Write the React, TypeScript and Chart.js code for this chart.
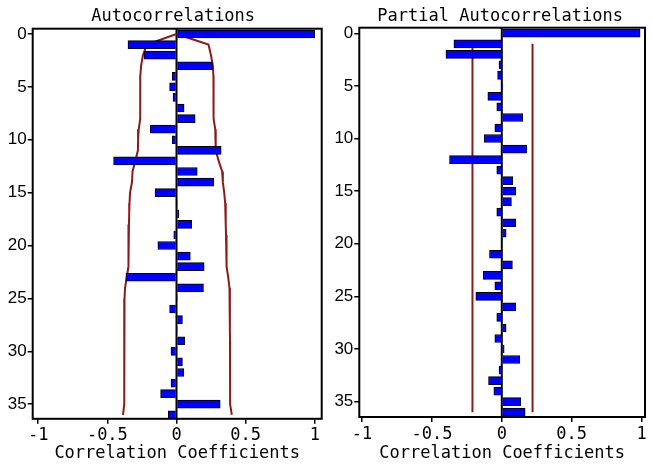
import React, { useEffect, useRef } from 'react';
import { Chart, registerables } from 'chart.js';

Chart.register(...registerables);

// Lags (categories)
const LAGS = [
  0, 1, 2, 3, 4, 5, 6, 7, 8, 9, 10, 11, 12, 13, 14, 15, 16, 17, 18,
  19, 20, 21, 22, 23, 24, 25, 26, 27, 28, 29, 30, 31, 32, 33, 34, 35, 36,
];

// Autocorrelations
const ACF = [
  1.0, -0.351, -0.235, 0.26, -0.03, -0.05, -0.025, 0.055, 0.135, -0.19,
  -0.03, 0.323, -0.455, 0.15, 0.27, -0.155, 0.005, 0.017, 0.11, -0.02,
  -0.135, 0.1, 0.2, -0.366, 0.195, 0.003, -0.05, 0.043, 0.003, 0.06,
  -0.04, 0.043, 0.053, -0.04, -0.115, 0.316, -0.06,
];

// ACF confidence band (upper / lower), one value per lag
const ACF_UPPER = [
  0, 0.231, 0.249, 0.263, 0.267, 0.267, 0.268, 0.268, 0.269, 0.28,
  0.282, 0.285, 0.305, 0.33, 0.335, 0.345, 0.352, 0.355, 0.357, 0.358,
  0.36, 0.362, 0.364, 0.374, 0.383, 0.386, 0.386, 0.386, 0.386, 0.387,
  0.387, 0.387, 0.387, 0.388, 0.388, 0.388, 0.4,
];
const ACF_LOWER = [
  0, -0.214, -0.243, -0.256, -0.262, -0.262, -0.262, -0.263, -0.263, -0.273,
  -0.278, -0.279, -0.298, -0.318, -0.322, -0.336, -0.34, -0.342, -0.344, -0.345,
  -0.347, -0.348, -0.35, -0.36, -0.372, -0.376, -0.377, -0.377, -0.377, -0.378,
  -0.378, -0.378, -0.378, -0.378, -0.379, -0.379, -0.387,
];

// Partial autocorrelations
const PACF = [
  0.99, -0.343, -0.4, -0.02, -0.03, 0.003, -0.1, -0.036, 0.15, -0.05,
  -0.126, 0.18, -0.374, -0.036, 0.079, 0.1, 0.069, -0.036, 0.1, 0.031,
  -0.003, -0.088, 0.076, -0.133, -0.05, -0.186, 0.1, -0.036, 0.031, -0.05,
  0.017, 0.129, -0.02, -0.095, -0.057, 0.136, 0.167,
];

// PACF band: constant limits from lag 1 to lag 36
const PACF_BAND_LAGS = [1, 36];
const PACF_UPPER = 0.22;
const PACF_LOWER = -0.21;

// Tick labels
const LAG_TICKS = [0, 5, 10, 15, 20, 25, 30, 35];
const X_TICKS = [-1, -0.5, 0, 0.5, 1];
const X_TICK_LABELS = ['-1', '-0.5', '0', '0.5', '1'];

const TITLE_LEFT = 'Autocorrelations';
const TITLE_RIGHT = 'Partial Autocorrelations';
const X_TITLE = 'Correlation Coefficients';

const MONO = "'DejaVu Sans Mono', 'Liberation Mono', monospace";
const SANS = "'Liberation Sans', Arial, sans-serif";
const BAND_COLOR = '#8B1A1A';

type PanelCfg = {
  title: string;
  titleDx: number;
  values: number[];
  bands: { x: number; y: number }[][];
  xMin: number;
  xMax: number;
  yMin: number;
  yMax: number;
  padTop: number;
  padRight: number;
  yWidth: number;
  xHeight: number;
};

function buildConfig(p: PanelCfg): any {
  const framePlugin = {
    id: 'frameAndTitle',
    beforeDatasetsDraw(chart: any) {
      const { ctx, chartArea: a, scales } = chart;
      const x0 = scales.x.getPixelForValue(0);
      ctx.save();
      ctx.strokeStyle = '#000';
      ctx.lineWidth = 2;
      ctx.beginPath();
      ctx.moveTo(x0, a.top);
      ctx.lineTo(x0, a.bottom);
      ctx.stroke();
      ctx.restore();
    },
    afterDraw(chart: any) {
      const { ctx, chartArea: a } = chart;
      ctx.save();
      ctx.strokeStyle = '#000';
      ctx.lineWidth = 2;
      ctx.strokeRect(a.left, a.top, a.right - a.left, a.bottom - a.top);
      ctx.fillStyle = '#000';
      ctx.font = `17px ${MONO}`;
      ctx.textAlign = 'center';
      ctx.textBaseline = 'alphabetic';
      ctx.fillText(p.title, (a.left + a.right) / 2 + p.titleDx, 20.7);
      ctx.restore();
    },
  };

  const datasets: any[] = [
    {
      type: 'bar',
      data: LAGS.map((lag, i) => ({ x: p.values[i], y: lag })),
      backgroundColor: '#0000FF',
      borderColor: '#000',
      borderWidth: 1,
      barThickness: 8,
    },
    ...p.bands.map((pts) => ({
      type: 'line',
      data: pts,
      borderColor: BAND_COLOR,
      borderWidth: 2,
      pointRadius: 0,
      fill: false,
      tension: 0,
    })),
  ];

  return {
    type: 'bar',
    data: { datasets },
    plugins: [framePlugin],
    options: {
      responsive: false,
      animation: false,
      indexAxis: 'y',
      layout: { padding: { left: 0, right: p.padRight, top: p.padTop, bottom: 0 } },
      plugins: {
        legend: { display: false },
        tooltip: { enabled: false },
        title: { display: false },
      },
      scales: {
        x: {
          type: 'linear',
          position: 'bottom',
          min: p.xMin,
          max: p.xMax,
          offset: false,
          afterBuildTicks: (scale: any) => {
            scale.ticks = X_TICKS.map((v) => ({ value: v }));
          },
          afterFit: (scale: any) => {
            scale.height = p.xHeight;
          },
          ticks: {
            autoSkip: false,
            maxRotation: 0,
            padding: 2,
            color: '#000',
            font: { family: MONO, size: 17 },
            callback: (v: number) => {
              const i = X_TICKS.indexOf(v);
              return i >= 0 ? X_TICK_LABELS[i] : '';
            },
          },
          grid: {
            display: true,
            offset: false,
            drawOnChartArea: false,
            drawTicks: true,
            tickLength: 5,
            color: '#000',
            lineWidth: 1.5,
          },
          border: { display: false },
          title: {
            display: true,
            text: X_TITLE,
            color: '#000',
            font: { family: MONO, size: 17 },
            padding: { top: 0, bottom: 4 },
          },
        },
        y: {
          type: 'linear',
          position: 'left',
          reverse: true,
          offset: false,
          min: p.yMin,
          max: p.yMax,
          afterBuildTicks: (scale: any) => {
            scale.ticks = LAG_TICKS.map((v) => ({ value: v }));
          },
          afterFit: (scale: any) => {
            scale.width = p.yWidth;
          },
          ticks: {
            autoSkip: false,
            padding: 1,
            color: '#000',
            font: { family: SANS, size: 17 },
            callback: (v: number) => String(v),
          },
          grid: {
            display: true,
            offset: false,
            drawOnChartArea: false,
            drawTicks: true,
            tickLength: 5,
            color: '#000',
            lineWidth: 1.5,
          },
          border: { display: false },
        },
      },
    },
  };
}

function Panel({ width, cfg }: { width: number; cfg: PanelCfg }) {
  const ref = useRef<HTMLCanvasElement | null>(null);
  useEffect(() => {
    if (!ref.current) return;
    const chart = new Chart(ref.current, buildConfig(cfg));
    return () => chart.destroy();
  }, []);
  return (
    <canvas
      ref={ref}
      width={width}
      height={468}
      style={{ width, height: 468, display: 'block' }}
    />
  );
}

const leftCfg: PanelCfg = {
  title: TITLE_LEFT,
  titleDx: -4,
  values: ACF,
  bands: [
    LAGS.map((lag, i) => ({ x: ACF_UPPER[i], y: lag })),
    LAGS.map((lag, i) => ({ x: ACF_LOWER[i], y: lag })),
  ],
  xMin: -1.04,
  xMax: 1.05,
  yMin: -0.5,
  yMax: 36.38,
  padTop: 28.7,
  padRight: 8.3,
  yWidth: 32.7,
  xHeight: 49.2,
};

const rightCfg: PanelCfg = {
  title: TITLE_RIGHT,
  titleDx: -2,
  values: PACF,
  bands: [
    PACF_BAND_LAGS.map((lag) => ({ x: PACF_UPPER, y: lag })),
    PACF_BAND_LAGS.map((lag) => ({ x: PACF_LOWER, y: lag })),
  ],
  xMin: -1.02,
  xMax: 1.025,
  yMin: -0.53,
  yMax: 36.46,
  padTop: 27.7,
  padRight: 8,
  yWidth: 29.3,
  xHeight: 51,
};

export default function App() {
  return (
    <div
      style={{
        position: 'absolute',
        left: 0,
        top: 0,
        width: 653,
        height: 468,
        display: 'flex',
        background: '#fff',
      }}
    >
      <Panel width={330} cfg={leftCfg} />
      <Panel width={323} cfg={rightCfg} />
    </div>
  );
}
